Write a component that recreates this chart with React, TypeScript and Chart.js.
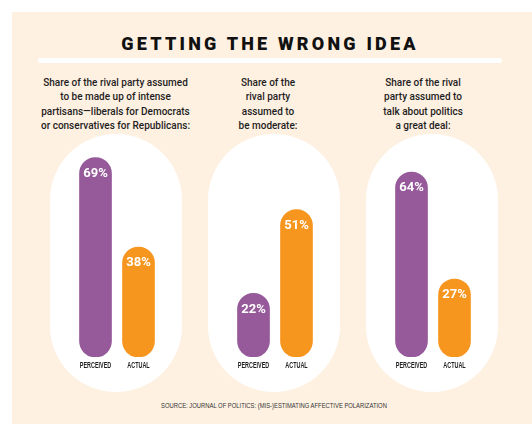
import React, { useEffect, useRef } from "react";
import { Chart, registerables } from "chart.js";

Chart.register(...registerables);

const categories = ["PERCEIVED", "ACTUAL"];
const intensePartisans = [69, 38];
const moderates = [22, 51];
const talkPolitics = [64, 27];
const seriesList = [intensePartisans, moderates, talkPolitics];

const panelTitles = [
  ["Share of the rival party assumed", "to be made up of intense", "partisans\u2014liberals for Democrats", "or conservatives for Republicans:"],
  ["Share of the", "rival party", "assumed to", "be moderate:"],
  ["Share of the rival", "party assumed to", "talk about politics", "a great deal:"],
];

const title = "GETTING THE WRONG IDEA";
const source = "SOURCE: JOURNAL OF POLITICS: (MIS-)ESTIMATING AFFECTIVE POLARIZATION";

const barColors = ["#965A9B", "#F7961F"];
const BEIGE = "#FEF1E2";

const panelLefts = [50, 208, 366];
const titleCenters = [115.5, 268, 423];

const valueLabelPlugin = {
  id: "valueLabels",
  afterDatasetsDraw(chart: any) {
    const ctx = chart.ctx;
    const meta = chart.getDatasetMeta(0);
    const data = chart.data.datasets[0].data;
    ctx.save();
    ctx.fillStyle = "#FFFFFF";
    ctx.font = "bold 13px Roboto";
    ctx.textAlign = "center";
    ctx.textBaseline = "middle";
    meta.data.forEach((el: any, i: number) => {
      ctx.fillText(`${data[i]}%`, el.x, el.y + 16);
    });
    ctx.restore();
  },
};

// Category labels drawn in a condensed face (horizontal squeeze) at the x scale's tick positions
const condensedTicksPlugin = {
  id: "condensedTicks",
  afterDraw(chart: any) {
    const ctx = chart.ctx;
    const xs = chart.scales.x;
    ctx.save();
    ctx.fillStyle = "#1E1E1E";
    ctx.font = "bold 8.5px 'Liberation Sans'";
    ctx.textAlign = "center";
    ctx.textBaseline = "middle";
    xs.ticks.forEach((_t: any, i: number) => {
      const label = xs.getLabelForValue(i);
      const x = xs.getPixelForTick(i);
      const y = xs.top + 9;
      ctx.save();
      ctx.translate(x, y);
      ctx.scale(0.64, 1);
      ctx.fillText(label, 0, 0);
      ctx.restore();
    });
    ctx.restore();
  },
};

function PanelChart({ values }: { values: number[] }) {
  const ref = useRef<HTMLCanvasElement>(null);
  useEffect(() => {
    if (!ref.current) return;
    const chart = new Chart(ref.current, {
      type: "bar",
      data: {
        labels: categories,
        datasets: [
          {
            data: values,
            backgroundColor: barColors,
            borderRadius: 16,
            borderSkipped: false,
            barThickness: 32,
          },
        ],
      },
      options: {
        animation: false,
        responsive: false,
        maintainAspectRatio: false,
        layout: { padding: { top: 8, left: 24, right: 22, bottom: 0 } },
        plugins: { legend: { display: false }, tooltip: { enabled: false } },
        scales: {
          y: { min: 0, max: 100, display: false },
          x: {
            grid: { display: false, drawTicks: false, tickLength: 0 },
            border: { display: false },
            ticks: {
              display: false,
              autoSkip: false,
              maxRotation: 0,
              minRotation: 0,
            },
            afterFit: (scale: any) => {
              scale.height = 23;
              scale.paddingLeft = 0;
              scale.paddingRight = 0;
            },
          },
        },
      },
      plugins: [valueLabelPlugin, condensedTicksPlugin],
    });
    return () => chart.destroy();
  }, [values]);
  return <canvas ref={ref} width={132} height={320} style={{ width: 132, height: 320, display: "block" }} />;
}

export default function App() {
  return (
    <div style={{ position: "fixed", left: 0, top: 0, width: 532, height: 424, background: "#FFFFFF", overflow: "hidden" }}>
      <div style={{ position: "absolute", left: 12, top: 12, width: 520, height: 412, background: BEIGE }} />
      <div
        style={{
          position: "absolute",
          left: 0,
          top: 32,
          width: 540,
          textAlign: "center",
          fontFamily: "Roboto",
          fontWeight: 900,
          fontSize: 18,
          lineHeight: "24px",
          letterSpacing: "3.2px",
          color: "#111111",
        }}
      >
        {title}
      </div>
      <div style={{ position: "absolute", left: 38, top: 58, width: 464, height: 5, borderRadius: 3, background: "#FFFFFF" }} />
      {panelTitles.map((lines, i) => (
        <div
          key={"t" + i}
          style={{
            position: "absolute",
            left: titleCenters[i] - 100,
            top: 76,
            width: 200,
            textAlign: "center",
            fontFamily: "Roboto",
            fontWeight: 500,
            fontSize: 10,
            lineHeight: "14.3px",
            color: "#1E1E1E",
          }}
        >
          {lines.map((l, j) => (
            <div key={j}>{l}</div>
          ))}
        </div>
      ))}
      {panelLefts.map((left, i) => (
        <div
          key={"p" + i}
          style={{ position: "absolute", left, top: 134, width: 132, height: 258, borderRadius: 66, background: "#FFFFFF" }}
        />
      ))}
      {panelLefts.map((left, i) => (
        <div key={"c" + i} style={{ position: "absolute", left, top: 60 }}>
          <PanelChart values={seriesList[i]} />
        </div>
      ))}
      <div
        style={{
          position: "absolute",
          left: 0,
          top: 401,
          width: 548,
          textAlign: "center",
          fontFamily: "'Liberation Sans'",
          fontSize: 6.5,
          lineHeight: "10px",
          color: "#333333",
          transform: "scaleX(0.9)",
          transformOrigin: "274px 5px",
        }}
      >
        {source}
      </div>
    </div>
  );
}
